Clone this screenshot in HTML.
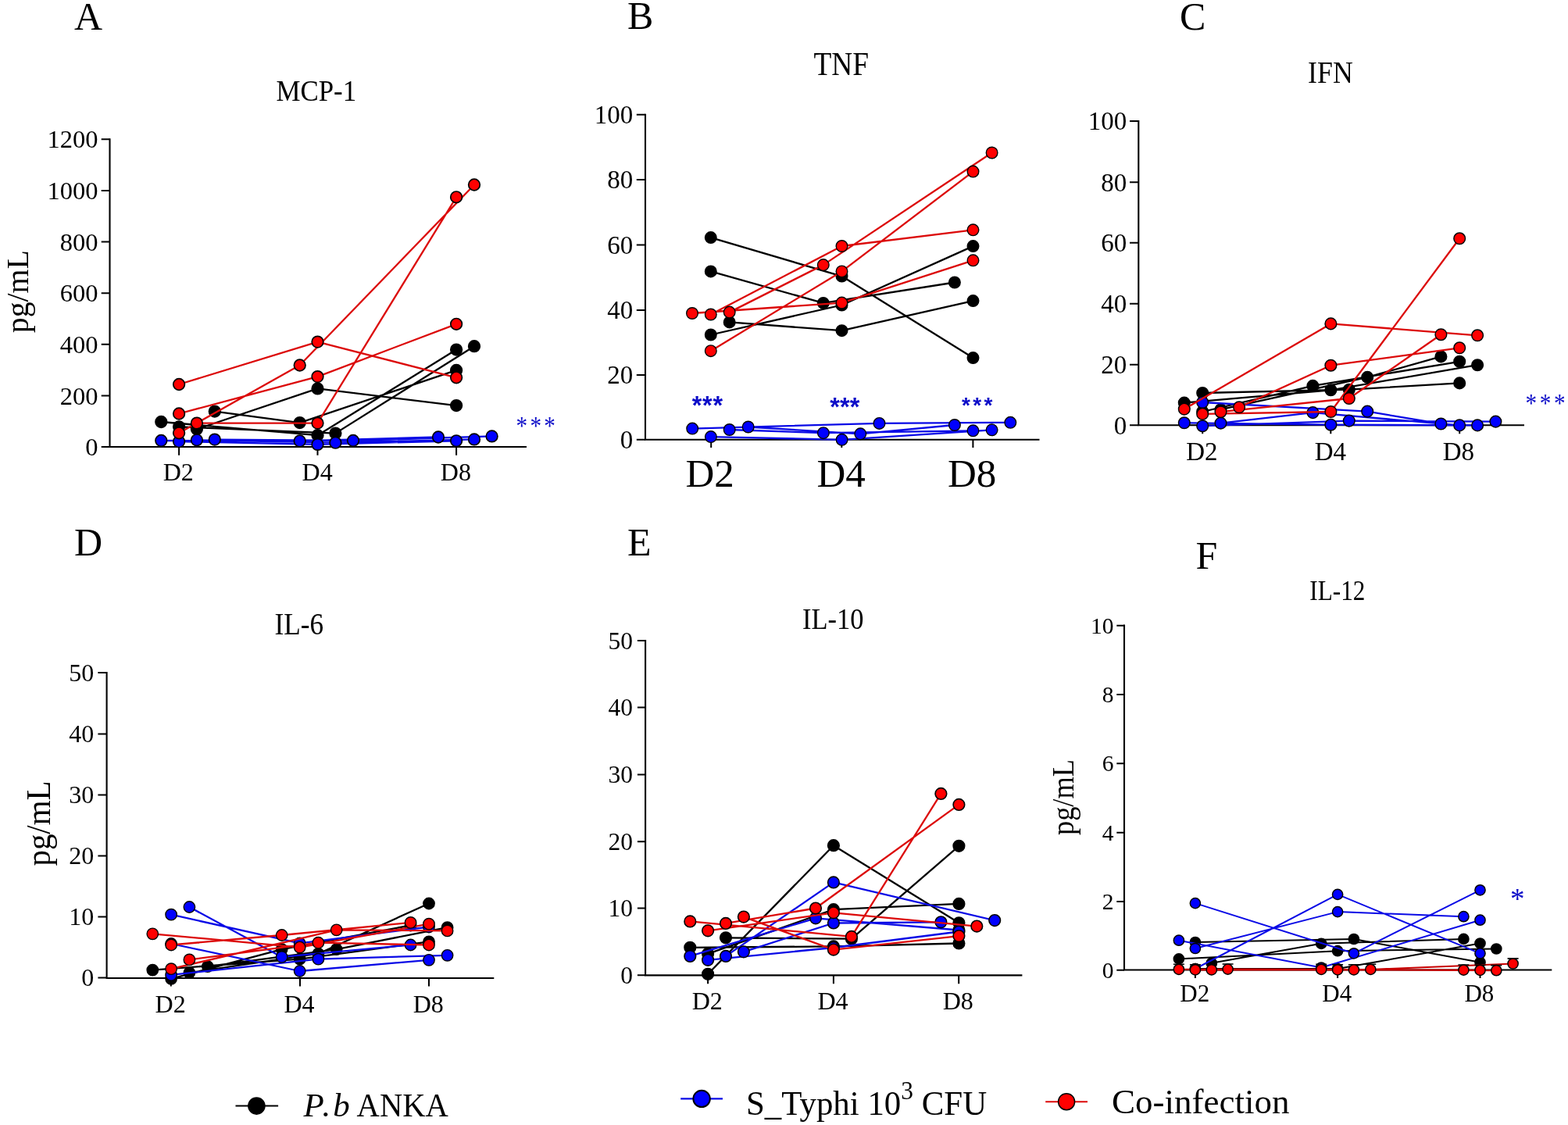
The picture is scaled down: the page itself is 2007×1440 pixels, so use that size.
<!DOCTYPE html>
<html><head><meta charset="utf-8"><title>Cytokine kinetics</title>
<style>
html,body{margin:0;padding:0;background:#fff;}
body{width:2007px;height:1440px;overflow:hidden;}
svg{display:block;}
text{font-family:"Liberation Serif","Times New Roman",serif;fill:#000;}
</style></head><body>
<svg width="2007" height="1440" viewBox="0 0 2007 1440">
<rect width="2007" height="1440" fill="#fff"/>
<g id="panelA">
<path d="M140.5 177.3V572H674" fill="none" stroke="#000" stroke-width="2.1"/>
<path d="M129.7 178.3H140.5M129.7 243.9H140.5M129.7 309.6H140.5M129.7 375.2H140.5M129.7 440.8H140.5M129.7 506.5H140.5M129.7 572.1H140.5M229.1 572V582.7M406.5 572V582.7M584.1 572V582.7" fill="none" stroke="#000" stroke-width="2"/>
<text x="125.5" y="189.3" font-size="32.5" text-anchor="end">1200</text>
<text x="125.5" y="254.9" font-size="32.5" text-anchor="end">1000</text>
<text x="125.5" y="320.6" font-size="32.5" text-anchor="end">800</text>
<text x="125.5" y="386.2" font-size="32.5" text-anchor="end">600</text>
<text x="125.5" y="451.8" font-size="32.5" text-anchor="end">400</text>
<text x="125.5" y="517.5" font-size="32.5" text-anchor="end">200</text>
<text x="125.5" y="583.1" font-size="32.5" text-anchor="end">0</text>
<text x="228.2" y="614.8" font-size="32" text-anchor="middle">D2</text>
<text x="406.1" y="614.8" font-size="32" text-anchor="middle">D4</text>
<text x="583.4" y="614.8" font-size="32" text-anchor="middle">D8</text>
<path d="M206.3 540L406.5 557.2L584.1 447.6M229.1 546.3L429.4 554.6L607 443.2M251.9 549.3L406.5 497.4L584.1 519.1M274.8 526.6L383.7 541.1L584.1 473.9" fill="none" stroke="#000" stroke-width="2.3" stroke-linejoin="round"/>
<circle cx="206.3" cy="540" r="7.3" fill="#000" stroke="#000" stroke-width="1.7"/>
<circle cx="406.5" cy="557.2" r="7.3" fill="#000" stroke="#000" stroke-width="1.7"/>
<circle cx="584.1" cy="447.6" r="7.3" fill="#000" stroke="#000" stroke-width="1.7"/>
<circle cx="229.1" cy="546.3" r="7.3" fill="#000" stroke="#000" stroke-width="1.7"/>
<circle cx="429.4" cy="554.6" r="7.3" fill="#000" stroke="#000" stroke-width="1.7"/>
<circle cx="607" cy="443.2" r="7.3" fill="#000" stroke="#000" stroke-width="1.7"/>
<circle cx="251.9" cy="549.3" r="7.3" fill="#000" stroke="#000" stroke-width="1.7"/>
<circle cx="406.5" cy="497.4" r="7.3" fill="#000" stroke="#000" stroke-width="1.7"/>
<circle cx="584.1" cy="519.1" r="7.3" fill="#000" stroke="#000" stroke-width="1.7"/>
<circle cx="274.8" cy="526.6" r="7.3" fill="#000" stroke="#000" stroke-width="1.7"/>
<circle cx="383.7" cy="541.1" r="7.3" fill="#000" stroke="#000" stroke-width="1.7"/>
<circle cx="584.1" cy="473.9" r="7.3" fill="#000" stroke="#000" stroke-width="1.7"/>
<path d="M206.3 564L383.7 564.5L561 559.5M229.1 565.2L406.5 568.9L584.1 564.3M251.9 563.3L429.4 566.7L607 562.4M274.8 562.6L452 564L629.6 558.4" fill="none" stroke="#0a0ae6" stroke-width="2.3" stroke-linejoin="round"/>
<circle cx="206.3" cy="564" r="7.3" fill="#0000ff" stroke="#000" stroke-width="1.7"/>
<circle cx="383.7" cy="564.5" r="7.3" fill="#0000ff" stroke="#000" stroke-width="1.7"/>
<circle cx="561" cy="559.5" r="7.3" fill="#0000ff" stroke="#000" stroke-width="1.7"/>
<circle cx="229.1" cy="565.2" r="7.3" fill="#0000ff" stroke="#000" stroke-width="1.7"/>
<circle cx="406.5" cy="568.9" r="7.3" fill="#0000ff" stroke="#000" stroke-width="1.7"/>
<circle cx="584.1" cy="564.3" r="7.3" fill="#0000ff" stroke="#000" stroke-width="1.7"/>
<circle cx="251.9" cy="563.3" r="7.3" fill="#0000ff" stroke="#000" stroke-width="1.7"/>
<circle cx="429.4" cy="566.7" r="7.3" fill="#0000ff" stroke="#000" stroke-width="1.7"/>
<circle cx="607" cy="562.4" r="7.3" fill="#0000ff" stroke="#000" stroke-width="1.7"/>
<circle cx="274.8" cy="562.6" r="7.3" fill="#0000ff" stroke="#000" stroke-width="1.7"/>
<circle cx="452" cy="564" r="7.3" fill="#0000ff" stroke="#000" stroke-width="1.7"/>
<circle cx="629.6" cy="558.4" r="7.3" fill="#0000ff" stroke="#000" stroke-width="1.7"/>
<path d="M229.1 492L406.5 437.6L584.1 483.3M229.1 554.3L383.7 467.5L607 236.5M229.1 529.5L406.5 482.1L584.1 414.8M251.9 541.6L406.5 541.6L584.1 252.3" fill="none" stroke="#dc0a0a" stroke-width="2.3" stroke-linejoin="round"/>
<circle cx="229.1" cy="492" r="7.3" fill="#ff0000" stroke="#000" stroke-width="1.7"/>
<circle cx="406.5" cy="437.6" r="7.3" fill="#ff0000" stroke="#000" stroke-width="1.7"/>
<circle cx="584.1" cy="483.3" r="7.3" fill="#ff0000" stroke="#000" stroke-width="1.7"/>
<circle cx="229.1" cy="554.3" r="7.3" fill="#ff0000" stroke="#000" stroke-width="1.7"/>
<circle cx="383.7" cy="467.5" r="7.3" fill="#ff0000" stroke="#000" stroke-width="1.7"/>
<circle cx="607" cy="236.5" r="7.3" fill="#ff0000" stroke="#000" stroke-width="1.7"/>
<circle cx="229.1" cy="529.5" r="7.3" fill="#ff0000" stroke="#000" stroke-width="1.7"/>
<circle cx="406.5" cy="482.1" r="7.3" fill="#ff0000" stroke="#000" stroke-width="1.7"/>
<circle cx="584.1" cy="414.8" r="7.3" fill="#ff0000" stroke="#000" stroke-width="1.7"/>
<circle cx="251.9" cy="541.6" r="7.3" fill="#ff0000" stroke="#000" stroke-width="1.7"/>
<circle cx="406.5" cy="541.6" r="7.3" fill="#ff0000" stroke="#000" stroke-width="1.7"/>
<circle cx="584.1" cy="252.3" r="7.3" fill="#ff0000" stroke="#000" stroke-width="1.7"/>
</g>
<g id="panelB">
<path d="M826 145.7V562.7H1330.5" fill="none" stroke="#000" stroke-width="2.1"/>
<path d="M814.8 146.7H826M814.8 230.1H826M814.8 313.6H826M814.8 397H826M814.8 480.1H826M814.8 562.8H826M910.2 562.7V573M1077.3 562.7V573M1245.4 562.7V573" fill="none" stroke="#000" stroke-width="2"/>
<text x="810.3" y="157.9" font-size="33" text-anchor="end">100</text>
<text x="810.3" y="241.3" font-size="33" text-anchor="end">80</text>
<text x="810.3" y="324.8" font-size="33" text-anchor="end">60</text>
<text x="810.3" y="408.2" font-size="33" text-anchor="end">40</text>
<text x="810.3" y="491.3" font-size="33" text-anchor="end">20</text>
<text x="810.3" y="574" font-size="33" text-anchor="end">0</text>
<text x="908.7" y="622.6" font-size="51" text-anchor="middle">D2</text>
<text x="1076.7" y="622.6" font-size="51" text-anchor="middle">D4</text>
<text x="1244.2" y="622.6" font-size="51" text-anchor="middle">D8</text>
<path d="M909.8 304.1L1077.5 353.6L1245.5 458.1M909.8 347.4L1053.8 387.9L1221.9 361.5M909.8 428.5L1077.5 390.5L1245.5 315.1M933.7 412.4L1077.5 423.2L1245.5 385.1" fill="none" stroke="#000" stroke-width="2.3" stroke-linejoin="round"/>
<circle cx="909.8" cy="304.1" r="7.3" fill="#000" stroke="#000" stroke-width="1.4"/>
<circle cx="1077.5" cy="353.6" r="7.3" fill="#000" stroke="#000" stroke-width="1.4"/>
<circle cx="1245.5" cy="458.1" r="7.3" fill="#000" stroke="#000" stroke-width="1.4"/>
<circle cx="909.8" cy="347.4" r="7.3" fill="#000" stroke="#000" stroke-width="1.4"/>
<circle cx="1053.8" cy="387.9" r="7.3" fill="#000" stroke="#000" stroke-width="1.4"/>
<circle cx="1221.9" cy="361.5" r="7.3" fill="#000" stroke="#000" stroke-width="1.4"/>
<circle cx="909.8" cy="428.5" r="7.3" fill="#000" stroke="#000" stroke-width="1.4"/>
<circle cx="1077.5" cy="390.5" r="7.3" fill="#000" stroke="#000" stroke-width="1.4"/>
<circle cx="1245.5" cy="315.1" r="7.3" fill="#000" stroke="#000" stroke-width="1.4"/>
<circle cx="933.7" cy="412.4" r="7.3" fill="#000" stroke="#000" stroke-width="1.4"/>
<circle cx="1077.5" cy="423.2" r="7.3" fill="#000" stroke="#000" stroke-width="1.4"/>
<circle cx="1245.5" cy="385.1" r="7.3" fill="#000" stroke="#000" stroke-width="1.4"/>
<path d="M886.2 548.6L1125.5 541.9L1293.3 540.8M909.9 559.1L1077.6 562.8L1269.6 550.3M933.7 550L1053.9 554.2L1245.5 551.3M957.7 546.5L1101.3 555.3L1221.9 544" fill="none" stroke="#0a0ae6" stroke-width="2.3" stroke-linejoin="round"/>
<circle cx="886.2" cy="548.6" r="7.3" fill="#0000ff" stroke="#000" stroke-width="1.4"/>
<circle cx="1125.5" cy="541.9" r="7.3" fill="#0000ff" stroke="#000" stroke-width="1.4"/>
<circle cx="1293.3" cy="540.8" r="7.3" fill="#0000ff" stroke="#000" stroke-width="1.4"/>
<circle cx="909.9" cy="559.1" r="7.3" fill="#0000ff" stroke="#000" stroke-width="1.4"/>
<circle cx="1077.6" cy="562.8" r="7.3" fill="#0000ff" stroke="#000" stroke-width="1.4"/>
<circle cx="1269.6" cy="550.3" r="7.3" fill="#0000ff" stroke="#000" stroke-width="1.4"/>
<circle cx="933.7" cy="550" r="7.3" fill="#0000ff" stroke="#000" stroke-width="1.4"/>
<circle cx="1053.9" cy="554.2" r="7.3" fill="#0000ff" stroke="#000" stroke-width="1.4"/>
<circle cx="1245.5" cy="551.3" r="7.3" fill="#0000ff" stroke="#000" stroke-width="1.4"/>
<circle cx="957.7" cy="546.5" r="7.3" fill="#0000ff" stroke="#000" stroke-width="1.4"/>
<circle cx="1101.3" cy="555.3" r="7.3" fill="#0000ff" stroke="#000" stroke-width="1.4"/>
<circle cx="1221.9" cy="544" r="7.3" fill="#0000ff" stroke="#000" stroke-width="1.4"/>
<path d="M886 401L1077.5 387.6L1245.5 333.3M909.8 402.5L1077.5 315L1245.5 294.3M933.7 399.6L1053.8 339.1L1269.6 195.5M909.8 449.2L1077.5 347.4L1245.5 219.6" fill="none" stroke="#dc0a0a" stroke-width="2.3" stroke-linejoin="round"/>
<circle cx="886" cy="401" r="7.3" fill="#ff0000" stroke="#000" stroke-width="1.4"/>
<circle cx="1077.5" cy="387.6" r="7.3" fill="#ff0000" stroke="#000" stroke-width="1.4"/>
<circle cx="1245.5" cy="333.3" r="7.3" fill="#ff0000" stroke="#000" stroke-width="1.4"/>
<circle cx="909.8" cy="402.5" r="7.3" fill="#ff0000" stroke="#000" stroke-width="1.4"/>
<circle cx="1077.5" cy="315" r="7.3" fill="#ff0000" stroke="#000" stroke-width="1.4"/>
<circle cx="1245.5" cy="294.3" r="7.3" fill="#ff0000" stroke="#000" stroke-width="1.4"/>
<circle cx="933.7" cy="399.6" r="7.3" fill="#ff0000" stroke="#000" stroke-width="1.4"/>
<circle cx="1053.8" cy="339.1" r="7.3" fill="#ff0000" stroke="#000" stroke-width="1.4"/>
<circle cx="1269.6" cy="195.5" r="7.3" fill="#ff0000" stroke="#000" stroke-width="1.4"/>
<circle cx="909.8" cy="449.2" r="7.3" fill="#ff0000" stroke="#000" stroke-width="1.4"/>
<circle cx="1077.5" cy="347.4" r="7.3" fill="#ff0000" stroke="#000" stroke-width="1.4"/>
<circle cx="1245.5" cy="219.6" r="7.3" fill="#ff0000" stroke="#000" stroke-width="1.4"/>
</g>
<g id="panelC">
<path d="M1457.3 154V544.3H1951" fill="none" stroke="#000" stroke-width="2.1"/>
<path d="M1446 155H1457.3M1446 233.3H1457.3M1446 310.7H1457.3M1446 388.7H1457.3M1446 466.7H1457.3M1446 544.3H1457.3M1539.2 544.3V555.2M1703.3 544.3V555.2M1868.2 544.3V555.2" fill="none" stroke="#000" stroke-width="2"/>
<text x="1442.3" y="166.2" font-size="33" text-anchor="end">100</text>
<text x="1442.3" y="244.5" font-size="33" text-anchor="end">80</text>
<text x="1442.3" y="321.9" font-size="33" text-anchor="end">60</text>
<text x="1442.3" y="399.9" font-size="33" text-anchor="end">40</text>
<text x="1442.3" y="477.9" font-size="33" text-anchor="end">20</text>
<text x="1442.3" y="555.5" font-size="33" text-anchor="end">0</text>
<text x="1538.4" y="588.7" font-size="33" text-anchor="middle">D2</text>
<text x="1702.8" y="588.7" font-size="33" text-anchor="middle">D4</text>
<text x="1866.8" y="588.7" font-size="33" text-anchor="middle">D8</text>
<path d="M1539.2 503L1726.8 498.7L1868.2 490.4M1515.8 515.6L1703.4 499.3L1891.1 467.2M1539.2 527L1680.4 493.9L1868.2 462.8M1562.5 524.2L1750.2 482.9L1844.4 456.4" fill="none" stroke="#000" stroke-width="2.3" stroke-linejoin="round"/>
<circle cx="1539.2" cy="503" r="7.3" fill="#000" stroke="#000" stroke-width="1.5"/>
<circle cx="1726.8" cy="498.7" r="7.3" fill="#000" stroke="#000" stroke-width="1.5"/>
<circle cx="1868.2" cy="490.4" r="7.3" fill="#000" stroke="#000" stroke-width="1.5"/>
<circle cx="1515.8" cy="515.6" r="7.3" fill="#000" stroke="#000" stroke-width="1.5"/>
<circle cx="1703.4" cy="499.3" r="7.3" fill="#000" stroke="#000" stroke-width="1.5"/>
<circle cx="1891.1" cy="467.2" r="7.3" fill="#000" stroke="#000" stroke-width="1.5"/>
<circle cx="1539.2" cy="527" r="7.3" fill="#000" stroke="#000" stroke-width="1.5"/>
<circle cx="1680.4" cy="493.9" r="7.3" fill="#000" stroke="#000" stroke-width="1.5"/>
<circle cx="1868.2" cy="462.8" r="7.3" fill="#000" stroke="#000" stroke-width="1.5"/>
<circle cx="1562.5" cy="524.2" r="7.3" fill="#000" stroke="#000" stroke-width="1.5"/>
<circle cx="1750.2" cy="482.9" r="7.3" fill="#000" stroke="#000" stroke-width="1.5"/>
<circle cx="1844.4" cy="456.4" r="7.3" fill="#000" stroke="#000" stroke-width="1.5"/>
<path d="M1539.2 515L1750.2 526.6L1844.4 542.5M1562.5 541.6L1680.4 528.1L1868.2 544.4M1515.8 541.3L1703.4 543.7L1891.1 544.4M1539.2 545.2L1726.8 538.6L1914.4 539.6" fill="none" stroke="#0a0ae6" stroke-width="2.3" stroke-linejoin="round"/>
<circle cx="1539.2" cy="515" r="7.3" fill="#0000ff" stroke="#000" stroke-width="1.5"/>
<circle cx="1750.2" cy="526.6" r="7.3" fill="#0000ff" stroke="#000" stroke-width="1.5"/>
<circle cx="1844.4" cy="542.5" r="7.3" fill="#0000ff" stroke="#000" stroke-width="1.5"/>
<circle cx="1562.5" cy="541.6" r="7.3" fill="#0000ff" stroke="#000" stroke-width="1.5"/>
<circle cx="1680.4" cy="528.1" r="7.3" fill="#0000ff" stroke="#000" stroke-width="1.5"/>
<circle cx="1868.2" cy="544.4" r="7.3" fill="#0000ff" stroke="#000" stroke-width="1.5"/>
<circle cx="1515.8" cy="541.3" r="7.3" fill="#0000ff" stroke="#000" stroke-width="1.5"/>
<circle cx="1703.4" cy="543.7" r="7.3" fill="#0000ff" stroke="#000" stroke-width="1.5"/>
<circle cx="1891.1" cy="544.4" r="7.3" fill="#0000ff" stroke="#000" stroke-width="1.5"/>
<circle cx="1539.2" cy="545.2" r="7.3" fill="#0000ff" stroke="#000" stroke-width="1.5"/>
<circle cx="1726.8" cy="538.6" r="7.3" fill="#0000ff" stroke="#000" stroke-width="1.5"/>
<circle cx="1914.4" cy="539.6" r="7.3" fill="#0000ff" stroke="#000" stroke-width="1.5"/>
<path d="M1515.8 523.6L1703.4 414.4L1891.1 429.3M1586.1 521.3L1703.4 467.7L1868.2 445.3M1539.2 529.9L1703.4 527L1868.2 305.3M1562.5 527.2L1726.8 510L1844.4 428.2" fill="none" stroke="#dc0a0a" stroke-width="2.3" stroke-linejoin="round"/>
<circle cx="1515.8" cy="523.6" r="7.3" fill="#ff0000" stroke="#000" stroke-width="1.5"/>
<circle cx="1703.4" cy="414.4" r="7.3" fill="#ff0000" stroke="#000" stroke-width="1.5"/>
<circle cx="1891.1" cy="429.3" r="7.3" fill="#ff0000" stroke="#000" stroke-width="1.5"/>
<circle cx="1586.1" cy="521.3" r="7.3" fill="#ff0000" stroke="#000" stroke-width="1.5"/>
<circle cx="1703.4" cy="467.7" r="7.3" fill="#ff0000" stroke="#000" stroke-width="1.5"/>
<circle cx="1868.2" cy="445.3" r="7.3" fill="#ff0000" stroke="#000" stroke-width="1.5"/>
<circle cx="1539.2" cy="529.9" r="7.3" fill="#ff0000" stroke="#000" stroke-width="1.5"/>
<circle cx="1703.4" cy="527" r="7.3" fill="#ff0000" stroke="#000" stroke-width="1.5"/>
<circle cx="1868.2" cy="305.3" r="7.3" fill="#ff0000" stroke="#000" stroke-width="1.5"/>
<circle cx="1562.5" cy="527.2" r="7.3" fill="#ff0000" stroke="#000" stroke-width="1.5"/>
<circle cx="1726.8" cy="510" r="7.3" fill="#ff0000" stroke="#000" stroke-width="1.5"/>
<circle cx="1844.4" cy="428.2" r="7.3" fill="#ff0000" stroke="#000" stroke-width="1.5"/>
</g>
<g id="panelD">
<path d="M136.6 859.9V1252H632.3" fill="none" stroke="#000" stroke-width="2.1"/>
<path d="M125.4 860.9H136.6M125.4 939.4H136.6M125.4 1017.4H136.6M125.4 1095.6H136.6M125.4 1173.4H136.6M125.4 1251.4H136.6M218.8 1252V1262.6M384 1252V1262.6M549 1252V1262.6" fill="none" stroke="#000" stroke-width="2"/>
<text x="120.3" y="871.7" font-size="32" text-anchor="end">50</text>
<text x="120.3" y="950.2" font-size="32" text-anchor="end">40</text>
<text x="120.3" y="1028.2" font-size="32" text-anchor="end">30</text>
<text x="120.3" y="1106.4" font-size="32" text-anchor="end">20</text>
<text x="120.3" y="1184.2" font-size="32" text-anchor="end">10</text>
<text x="120.3" y="1262.2" font-size="32" text-anchor="end">0</text>
<text x="218.1" y="1295.6" font-size="32" text-anchor="middle">D2</text>
<text x="383" y="1295.6" font-size="32" text-anchor="middle">D4</text>
<text x="548.3" y="1295.6" font-size="32" text-anchor="middle">D8</text>
<path d="M195.3 1241.6L383.7 1227.7L549 1205.3M219.1 1252.8L360.7 1215.1L525.6 1184.5M242.4 1245.1L407.4 1220.7L549 1156.5M265.8 1237.1L430.7 1215.1L572.6 1187.2" fill="none" stroke="#000" stroke-width="2.3" stroke-linejoin="round"/>
<circle cx="195.3" cy="1241.6" r="7.2" fill="#000" stroke="#000" stroke-width="1.4"/>
<circle cx="383.7" cy="1227.7" r="7.2" fill="#000" stroke="#000" stroke-width="1.4"/>
<circle cx="549" cy="1205.3" r="7.2" fill="#000" stroke="#000" stroke-width="1.4"/>
<circle cx="219.1" cy="1252.8" r="7.2" fill="#000" stroke="#000" stroke-width="1.4"/>
<circle cx="360.7" cy="1215.1" r="7.2" fill="#000" stroke="#000" stroke-width="1.4"/>
<circle cx="525.6" cy="1184.5" r="7.2" fill="#000" stroke="#000" stroke-width="1.4"/>
<circle cx="242.4" cy="1245.1" r="7.2" fill="#000" stroke="#000" stroke-width="1.4"/>
<circle cx="407.4" cy="1220.7" r="7.2" fill="#000" stroke="#000" stroke-width="1.4"/>
<circle cx="549" cy="1156.5" r="7.2" fill="#000" stroke="#000" stroke-width="1.4"/>
<circle cx="265.8" cy="1237.1" r="7.2" fill="#000" stroke="#000" stroke-width="1.4"/>
<circle cx="430.7" cy="1215.1" r="7.2" fill="#000" stroke="#000" stroke-width="1.4"/>
<circle cx="572.6" cy="1187.2" r="7.2" fill="#000" stroke="#000" stroke-width="1.4"/>
<path d="M219.1 1170.7L383.7 1207.4L549 1186.5M242.4 1161L360.7 1224.9L525.6 1209.5M219.1 1208L383.7 1243L549 1228.8M219.1 1247.9L407.4 1227.7L572.6 1222.8" fill="none" stroke="#0a0ae6" stroke-width="2.3" stroke-linejoin="round"/>
<circle cx="219.1" cy="1170.7" r="7.2" fill="#0000ff" stroke="#000" stroke-width="1.4"/>
<circle cx="383.7" cy="1207.4" r="7.2" fill="#0000ff" stroke="#000" stroke-width="1.4"/>
<circle cx="549" cy="1186.5" r="7.2" fill="#0000ff" stroke="#000" stroke-width="1.4"/>
<circle cx="242.4" cy="1161" r="7.2" fill="#0000ff" stroke="#000" stroke-width="1.4"/>
<circle cx="360.7" cy="1224.9" r="7.2" fill="#0000ff" stroke="#000" stroke-width="1.4"/>
<circle cx="525.6" cy="1209.5" r="7.2" fill="#0000ff" stroke="#000" stroke-width="1.4"/>
<circle cx="219.1" cy="1208" r="7.2" fill="#0000ff" stroke="#000" stroke-width="1.4"/>
<circle cx="383.7" cy="1243" r="7.2" fill="#0000ff" stroke="#000" stroke-width="1.4"/>
<circle cx="549" cy="1228.8" r="7.2" fill="#0000ff" stroke="#000" stroke-width="1.4"/>
<circle cx="219.1" cy="1247.9" r="7.2" fill="#0000ff" stroke="#000" stroke-width="1.4"/>
<circle cx="407.4" cy="1227.7" r="7.2" fill="#0000ff" stroke="#000" stroke-width="1.4"/>
<circle cx="572.6" cy="1222.8" r="7.2" fill="#0000ff" stroke="#000" stroke-width="1.4"/>
<path d="M195.3 1195.3L383.7 1212.6L549 1182.7M219.1 1209.5L360.7 1197L525.6 1180.9M242.4 1228.4L407.4 1206.7L549 1209.5M219.1 1240.2L430.7 1190.3L572.6 1191.4" fill="none" stroke="#dc0a0a" stroke-width="2.3" stroke-linejoin="round"/>
<circle cx="195.3" cy="1195.3" r="7.2" fill="#ff0000" stroke="#000" stroke-width="1.4"/>
<circle cx="383.7" cy="1212.6" r="7.2" fill="#ff0000" stroke="#000" stroke-width="1.4"/>
<circle cx="549" cy="1182.7" r="7.2" fill="#ff0000" stroke="#000" stroke-width="1.4"/>
<circle cx="219.1" cy="1209.5" r="7.2" fill="#ff0000" stroke="#000" stroke-width="1.4"/>
<circle cx="360.7" cy="1197" r="7.2" fill="#ff0000" stroke="#000" stroke-width="1.4"/>
<circle cx="525.6" cy="1180.9" r="7.2" fill="#ff0000" stroke="#000" stroke-width="1.4"/>
<circle cx="242.4" cy="1228.4" r="7.2" fill="#ff0000" stroke="#000" stroke-width="1.4"/>
<circle cx="407.4" cy="1206.7" r="7.2" fill="#ff0000" stroke="#000" stroke-width="1.4"/>
<circle cx="549" cy="1209.5" r="7.2" fill="#ff0000" stroke="#000" stroke-width="1.4"/>
<circle cx="219.1" cy="1240.2" r="7.2" fill="#ff0000" stroke="#000" stroke-width="1.4"/>
<circle cx="430.7" cy="1190.3" r="7.2" fill="#ff0000" stroke="#000" stroke-width="1.4"/>
<circle cx="572.6" cy="1191.4" r="7.2" fill="#ff0000" stroke="#000" stroke-width="1.4"/>
</g>
<g id="panelE">
<path d="M826.1 819V1248.4H1308.4" fill="none" stroke="#000" stroke-width="2.1"/>
<path d="M815.9 820H826.1M815.9 905.5H826.1M815.9 991.4H826.1M815.9 1077.2H826.1M815.9 1162.6H826.1M815.9 1248.2H826.1M906.1 1248.4V1259.2M1066.9 1248.4V1259.2M1227.2 1248.4V1259.2" fill="none" stroke="#000" stroke-width="2"/>
<text x="810" y="830.6" font-size="31.5" text-anchor="end">50</text>
<text x="810" y="916.1" font-size="31.5" text-anchor="end">40</text>
<text x="810" y="1002" font-size="31.5" text-anchor="end">30</text>
<text x="810" y="1087.8" font-size="31.5" text-anchor="end">20</text>
<text x="810" y="1173.2" font-size="31.5" text-anchor="end">10</text>
<text x="810" y="1258.8" font-size="31.5" text-anchor="end">0</text>
<text x="905.3" y="1291.5" font-size="32" text-anchor="middle">D2</text>
<text x="1066" y="1291.5" font-size="32" text-anchor="middle">D4</text>
<text x="1226.2" y="1291.5" font-size="32" text-anchor="middle">D8</text>
<path d="M906.1 1246.8L1066.9 1082.2L1227.4 1181.3M929 1200.3L1089.9 1201.7L1227.4 1082.8M883.3 1212.8L1066.9 1211.4L1227.4 1207.5M906.1 1220.8L1066.9 1164.2L1227.4 1156.9" fill="none" stroke="#000" stroke-width="2.3" stroke-linejoin="round"/>
<circle cx="906.1" cy="1246.8" r="7.3" fill="#000" stroke="#000" stroke-width="1.6"/>
<circle cx="1066.9" cy="1082.2" r="7.3" fill="#000" stroke="#000" stroke-width="1.6"/>
<circle cx="1227.4" cy="1181.3" r="7.3" fill="#000" stroke="#000" stroke-width="1.6"/>
<circle cx="929" cy="1200.3" r="7.3" fill="#000" stroke="#000" stroke-width="1.6"/>
<circle cx="1089.9" cy="1201.7" r="7.3" fill="#000" stroke="#000" stroke-width="1.6"/>
<circle cx="1227.4" cy="1082.8" r="7.3" fill="#000" stroke="#000" stroke-width="1.6"/>
<circle cx="883.3" cy="1212.8" r="7.3" fill="#000" stroke="#000" stroke-width="1.6"/>
<circle cx="1066.9" cy="1211.4" r="7.3" fill="#000" stroke="#000" stroke-width="1.6"/>
<circle cx="1227.4" cy="1207.5" r="7.3" fill="#000" stroke="#000" stroke-width="1.6"/>
<circle cx="906.1" cy="1220.8" r="7.3" fill="#000" stroke="#000" stroke-width="1.6"/>
<circle cx="1066.9" cy="1164.2" r="7.3" fill="#000" stroke="#000" stroke-width="1.6"/>
<circle cx="1227.4" cy="1156.9" r="7.3" fill="#000" stroke="#000" stroke-width="1.6"/>
<path d="M883.3 1223.9L1044 1175.3L1227.4 1190.5M906.1 1228.8L1066.9 1213L1227.4 1192.5M929 1223.9L1066.9 1129.4L1273.2 1178.1M951.9 1218.3L1066.9 1181.5L1204.4 1180.3" fill="none" stroke="#0a0ae6" stroke-width="2.3" stroke-linejoin="round"/>
<circle cx="883.3" cy="1223.9" r="7.3" fill="#0000ff" stroke="#000" stroke-width="1.6"/>
<circle cx="1044" cy="1175.3" r="7.3" fill="#0000ff" stroke="#000" stroke-width="1.6"/>
<circle cx="1227.4" cy="1190.5" r="7.3" fill="#0000ff" stroke="#000" stroke-width="1.6"/>
<circle cx="906.1" cy="1228.8" r="7.3" fill="#0000ff" stroke="#000" stroke-width="1.6"/>
<circle cx="1066.9" cy="1213" r="7.3" fill="#0000ff" stroke="#000" stroke-width="1.6"/>
<circle cx="1227.4" cy="1192.5" r="7.3" fill="#0000ff" stroke="#000" stroke-width="1.6"/>
<circle cx="929" cy="1223.9" r="7.3" fill="#0000ff" stroke="#000" stroke-width="1.6"/>
<circle cx="1066.9" cy="1129.4" r="7.3" fill="#0000ff" stroke="#000" stroke-width="1.6"/>
<circle cx="1273.2" cy="1178.1" r="7.3" fill="#0000ff" stroke="#000" stroke-width="1.6"/>
<circle cx="951.9" cy="1218.3" r="7.3" fill="#0000ff" stroke="#000" stroke-width="1.6"/>
<circle cx="1066.9" cy="1181.5" r="7.3" fill="#0000ff" stroke="#000" stroke-width="1.6"/>
<circle cx="1204.4" cy="1180.3" r="7.3" fill="#0000ff" stroke="#000" stroke-width="1.6"/>
<path d="M883.3 1179.4L1089.9 1198.9L1204.4 1015.9M906.1 1191.3L1066.9 1168.3L1250.3 1185.6M929 1181.9L1044 1162.5L1227.4 1029.9M951.9 1173.6L1066.9 1215.6L1227.4 1198.1" fill="none" stroke="#dc0a0a" stroke-width="2.3" stroke-linejoin="round"/>
<circle cx="883.3" cy="1179.4" r="7.3" fill="#ff0000" stroke="#000" stroke-width="1.6"/>
<circle cx="1089.9" cy="1198.9" r="7.3" fill="#ff0000" stroke="#000" stroke-width="1.6"/>
<circle cx="1204.4" cy="1015.9" r="7.3" fill="#ff0000" stroke="#000" stroke-width="1.6"/>
<circle cx="906.1" cy="1191.3" r="7.3" fill="#ff0000" stroke="#000" stroke-width="1.6"/>
<circle cx="1066.9" cy="1168.3" r="7.3" fill="#ff0000" stroke="#000" stroke-width="1.6"/>
<circle cx="1250.3" cy="1185.6" r="7.3" fill="#ff0000" stroke="#000" stroke-width="1.6"/>
<circle cx="929" cy="1181.9" r="7.3" fill="#ff0000" stroke="#000" stroke-width="1.6"/>
<circle cx="1044" cy="1162.5" r="7.3" fill="#ff0000" stroke="#000" stroke-width="1.6"/>
<circle cx="1227.4" cy="1029.9" r="7.3" fill="#ff0000" stroke="#000" stroke-width="1.6"/>
<circle cx="951.9" cy="1173.6" r="7.3" fill="#ff0000" stroke="#000" stroke-width="1.6"/>
<circle cx="1066.9" cy="1215.6" r="7.3" fill="#ff0000" stroke="#000" stroke-width="1.6"/>
<circle cx="1227.4" cy="1198.1" r="7.3" fill="#ff0000" stroke="#000" stroke-width="1.6"/>
</g>
<g id="panelF">
<path d="M1439 799.6V1241.5H1986.3" fill="none" stroke="#000" stroke-width="2.1"/>
<path d="M1429.3 800.7H1439M1429.3 889H1439M1429.3 977.3H1439M1429.3 1065.7H1439M1429.3 1154H1439M1429.3 1241.7H1439M1529.9 1241.5V1252M1712.1 1241.5V1252M1894.5 1241.5V1252" fill="none" stroke="#000" stroke-width="2"/>
<text x="1425.5" y="810.7" font-size="29.5" text-anchor="end">10</text>
<text x="1425.5" y="899" font-size="29.5" text-anchor="end">8</text>
<text x="1425.5" y="987.3" font-size="29.5" text-anchor="end">6</text>
<text x="1425.5" y="1075.7" font-size="29.5" text-anchor="end">4</text>
<text x="1425.5" y="1164" font-size="29.5" text-anchor="end">2</text>
<text x="1425.5" y="1251.7" font-size="29.5" text-anchor="end">0</text>
<text x="1529.2" y="1281.7" font-size="31" text-anchor="middle">D2</text>
<text x="1711.2" y="1281.7" font-size="31" text-anchor="middle">D4</text>
<text x="1893.4" y="1281.7" font-size="31" text-anchor="middle">D8</text>
<path d="M1529.9 1206L1732.9 1202L1894.5 1231.8M1508.9 1227.4L1712.1 1217.2L1915.3 1214.5M1550.8 1232.7L1691.2 1207.8L1873.4 1201.9M1529.9 1240L1712.1 1240L1894.5 1207.5" fill="none" stroke="#000" stroke-width="2.0" stroke-linejoin="round"/>
<circle cx="1529.9" cy="1206" r="6.6" fill="#000" stroke="#000" stroke-width="1.5"/>
<circle cx="1732.9" cy="1202" r="6.6" fill="#000" stroke="#000" stroke-width="1.5"/>
<circle cx="1894.5" cy="1231.8" r="6.6" fill="#000" stroke="#000" stroke-width="1.5"/>
<circle cx="1508.9" cy="1227.4" r="6.6" fill="#000" stroke="#000" stroke-width="1.5"/>
<circle cx="1712.1" cy="1217.2" r="6.6" fill="#000" stroke="#000" stroke-width="1.5"/>
<circle cx="1915.3" cy="1214.5" r="6.6" fill="#000" stroke="#000" stroke-width="1.5"/>
<circle cx="1550.8" cy="1232.7" r="6.6" fill="#000" stroke="#000" stroke-width="1.5"/>
<circle cx="1691.2" cy="1207.8" r="6.6" fill="#000" stroke="#000" stroke-width="1.5"/>
<circle cx="1873.4" cy="1201.9" r="6.6" fill="#000" stroke="#000" stroke-width="1.5"/>
<circle cx="1529.9" cy="1240" r="6.6" fill="#000" stroke="#000" stroke-width="1.5"/>
<circle cx="1712.1" cy="1240" r="6.6" fill="#000" stroke="#000" stroke-width="1.5"/>
<circle cx="1894.5" cy="1207.5" r="6.6" fill="#000" stroke="#000" stroke-width="1.5"/>
<path d="M1529.9 1156.1L1732.9 1220.3L1894.5 1139.3M1508.9 1203.7L1691.2 1238.5L1894.5 1177.7M1529.9 1214L1712.1 1167.1L1873.4 1173.2M1529.9 1240L1712.1 1144.9L1894.5 1220.3" fill="none" stroke="#0a0ae6" stroke-width="2.0" stroke-linejoin="round"/>
<circle cx="1529.9" cy="1156.1" r="6.6" fill="#0000ff" stroke="#000" stroke-width="1.5"/>
<circle cx="1732.9" cy="1220.3" r="6.6" fill="#0000ff" stroke="#000" stroke-width="1.5"/>
<circle cx="1894.5" cy="1139.3" r="6.6" fill="#0000ff" stroke="#000" stroke-width="1.5"/>
<circle cx="1508.9" cy="1203.7" r="6.6" fill="#0000ff" stroke="#000" stroke-width="1.5"/>
<circle cx="1691.2" cy="1238.5" r="6.6" fill="#0000ff" stroke="#000" stroke-width="1.5"/>
<circle cx="1894.5" cy="1177.7" r="6.6" fill="#0000ff" stroke="#000" stroke-width="1.5"/>
<circle cx="1529.9" cy="1214" r="6.6" fill="#0000ff" stroke="#000" stroke-width="1.5"/>
<circle cx="1712.1" cy="1167.1" r="6.6" fill="#0000ff" stroke="#000" stroke-width="1.5"/>
<circle cx="1873.4" cy="1173.2" r="6.6" fill="#0000ff" stroke="#000" stroke-width="1.5"/>
<circle cx="1529.9" cy="1240" r="6.6" fill="#0000ff" stroke="#000" stroke-width="1.5"/>
<circle cx="1712.1" cy="1144.9" r="6.6" fill="#0000ff" stroke="#000" stroke-width="1.5"/>
<circle cx="1894.5" cy="1220.3" r="6.6" fill="#0000ff" stroke="#000" stroke-width="1.5"/>
<path d="M1508.9 1240.8L1691.2 1240.8L1873.4 1241.6M1529.9 1241.4L1712.1 1241.4L1894.5 1241.8M1550.8 1241.4L1732.9 1241.4L1915.3 1242.2M1571.6 1240.6L1754.3 1240.9L1936.6 1233.5" fill="none" stroke="#c80000" stroke-width="2.0" stroke-linejoin="round"/>
<path d="M1501.9 1234.2h14M1684.2 1234.2h14M1866.4 1235h14M1522.9 1234.8h14M1705.1 1234.8h14M1887.5 1235.2h14M1543.8 1234.8h14M1725.9 1234.8h14M1908.3 1235.6h14M1564.6 1234h14M1747.3 1234.3h14M1929.6 1226.9h14" stroke="#000" stroke-width="1.6"/>
<circle cx="1508.9" cy="1240.8" r="6.6" fill="#ff0000" stroke="#000" stroke-width="1.5"/>
<circle cx="1691.2" cy="1240.8" r="6.6" fill="#ff0000" stroke="#000" stroke-width="1.5"/>
<circle cx="1873.4" cy="1241.6" r="6.6" fill="#ff0000" stroke="#000" stroke-width="1.5"/>
<circle cx="1529.9" cy="1241.4" r="6.6" fill="#ff0000" stroke="#000" stroke-width="1.5"/>
<circle cx="1712.1" cy="1241.4" r="6.6" fill="#ff0000" stroke="#000" stroke-width="1.5"/>
<circle cx="1894.5" cy="1241.8" r="6.6" fill="#ff0000" stroke="#000" stroke-width="1.5"/>
<circle cx="1550.8" cy="1241.4" r="6.6" fill="#ff0000" stroke="#000" stroke-width="1.5"/>
<circle cx="1732.9" cy="1241.4" r="6.6" fill="#ff0000" stroke="#000" stroke-width="1.5"/>
<circle cx="1915.3" cy="1242.2" r="6.6" fill="#ff0000" stroke="#000" stroke-width="1.5"/>
<circle cx="1571.6" cy="1240.6" r="6.6" fill="#ff0000" stroke="#000" stroke-width="1.5"/>
<circle cx="1754.3" cy="1240.9" r="6.6" fill="#ff0000" stroke="#000" stroke-width="1.5"/>
<circle cx="1936.6" cy="1233.5" r="6.6" fill="#ff0000" stroke="#000" stroke-width="1.5"/>
</g>
<text x="95" y="37.7" font-size="50">A</text>
<text x="803" y="37" font-size="50">B</text>
<text x="1510" y="37.5" font-size="50">C</text>
<text x="95" y="711.3" font-size="50">D</text>
<text x="803" y="711.3" font-size="50">E</text>
<text x="1530.5" y="728.1" font-size="50">F</text>
<text x="0" y="0" font-size="37.5" text-anchor="middle" transform="translate(404.8 129.3) scale(0.93 1)">MCP-1</text>
<text x="0" y="0" font-size="41.5" text-anchor="middle" transform="translate(1076.8 95.6) scale(0.9 1)">TNF</text>
<text x="0" y="0" font-size="39.5" text-anchor="middle" transform="translate(1702.9 106) scale(0.905 1)">IFN</text>
<text x="0" y="0" font-size="40.5" text-anchor="middle" transform="translate(382.9 811.7) scale(0.87 1)">IL-6</text>
<text x="0" y="0" font-size="38.5" text-anchor="middle" transform="translate(1066.3 805.4) scale(0.895 1)">IL-10</text>
<text x="0" y="0" font-size="35" text-anchor="middle" transform="translate(1711.9 767.9) scale(0.892 1)">IL-12</text>
<text x="0" y="0" font-size="41" text-anchor="middle" transform="translate(35.6 373.2) rotate(-90) scale(0.97 1)">pg/mL</text>
<text x="0" y="0" font-size="43.3" text-anchor="middle" transform="translate(64.3 1054) rotate(-90) scale(0.945 1)">pg/mL</text>
<text x="0" y="0" font-size="39.4" text-anchor="middle" transform="translate(1373.8 1020.5) rotate(-90) scale(0.925 1)">pg/mL</text>
<text x="0" y="0" font-size="34" transform="translate(660.6 556.2) scale(0.86 1)" style="fill:#0c0cc8;font-family:'Liberation Serif',serif" letter-spacing="3.7">***</text>
<text x="0" y="0" font-size="34" transform="translate(1952.5 526.7) scale(0.86 1)" style="fill:#0c0cc8;font-family:'Liberation Serif',serif" letter-spacing="4.2">***</text>
<text x="0" y="0" font-size="32.4" transform="translate(885.8 529.8) scale(1 1)" style="fill:#0c0cc8;font-family:'Liberation Sans',sans-serif;font-weight:bold" letter-spacing="0.7">***</text>
<text x="0" y="0" font-size="32.4" transform="translate(1062.3 532.4) scale(1 1)" style="fill:#0c0cc8;font-family:'Liberation Sans',sans-serif;font-weight:bold" letter-spacing="0.1">***</text>
<text x="0" y="0" font-size="28" transform="translate(1230.9 528) scale(1 1)" style="fill:#0c0cc8;font-family:'Liberation Sans',sans-serif;font-weight:bold" letter-spacing="3.4">***</text>
<text x="0" y="0" font-size="37" transform="translate(1933 1162.9) scale(1 1)" style="fill:#0c0cc8;font-family:'Liberation Serif',serif" letter-spacing="0">*</text>
<path d="M301.5 1415.6H356.1" stroke="#000" stroke-width="2"/>
<circle cx="328.4" cy="1415.6" r="10.6" fill="#000" stroke="#000" stroke-width="1.4"/>
<path d="M871.2 1406.4H925" stroke="#0a0ae6" stroke-width="2.2"/>
<circle cx="898.1" cy="1406.4" r="10.7" fill="#0000ff" stroke="#000" stroke-width="2"/>
<path d="M1338.2 1410.2H1392" stroke="#dc0a0a" stroke-width="2"/>
<circle cx="1365.1" cy="1410.2" r="10.5" fill="#ff0000" stroke="#000" stroke-width="1.5"/>
<text x="388.5" y="1428.9" font-size="43" font-style="italic" letter-spacing="3.2">P.b</text>
<text x="0" y="0" font-size="42.5" transform="translate(456.6 1428.9) scale(0.955 1)">ANKA</text>
<text x="0" y="0" font-size="45" transform="translate(955 1426.8) scale(0.953 1)">S_Typhi 10<tspan font-size="33" dy="-20">3</tspan><tspan dy="20"> CFU</tspan></text>
<text x="1423" y="1424.6" font-size="45">Co-infection</text>
</svg>
</body></html>
